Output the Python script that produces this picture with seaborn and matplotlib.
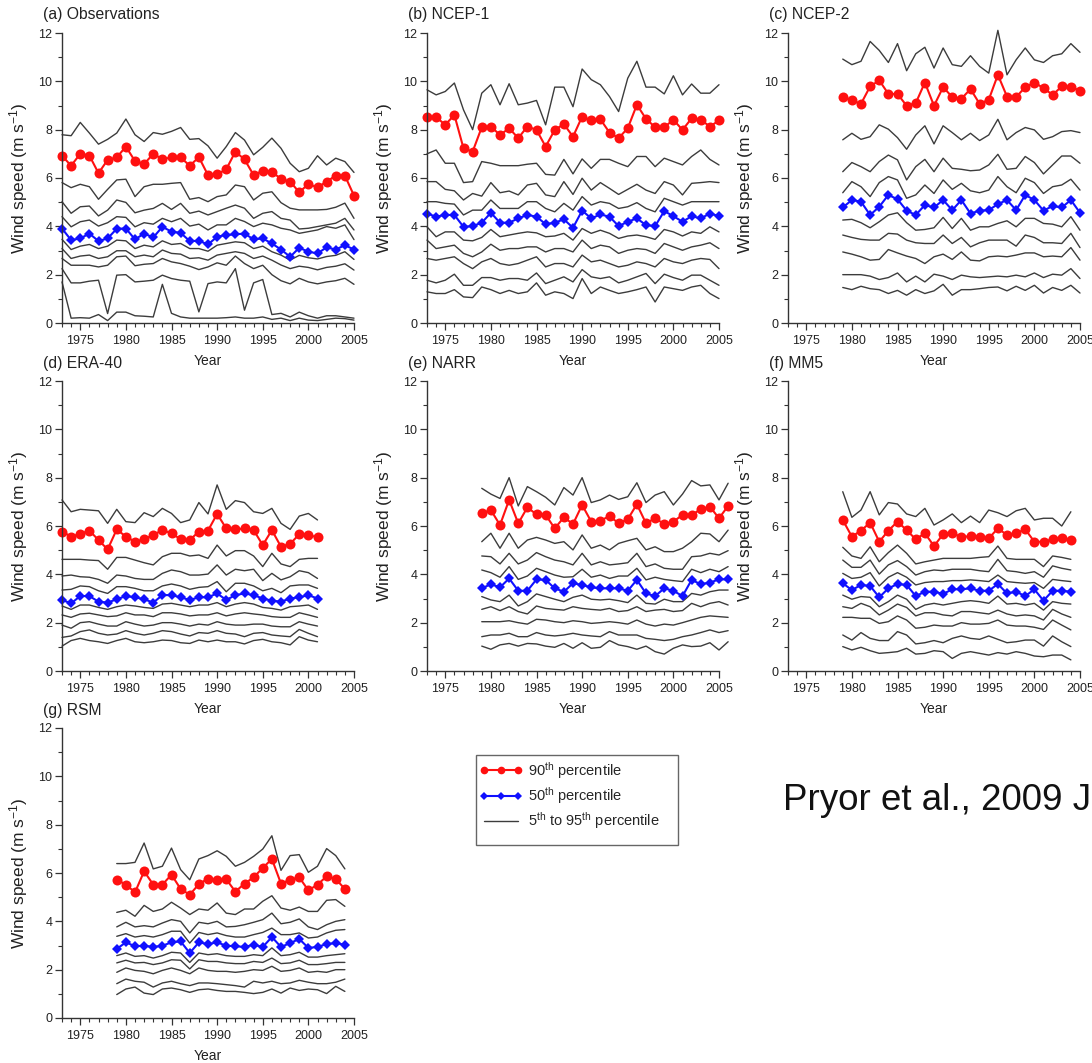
import matplotlib
matplotlib.use("Agg")
import matplotlib.pyplot as plt
from matplotlib.lines import Line2D
from matplotlib.patches import Rectangle
from matplotlib.ticker import MultipleLocator
import seaborn as sns
import pandas as pd

# ---------------- data (m s-1) ----------------
PCTS = [95, 90, 80, 70, 60, 50, 40, 30, 20, 10, 5]

OBS_START = 1973
OBS = {
    95: [7.79,7.75,8.30,7.86,7.40,7.60,7.86,8.44,7.79,7.51,7.88,7.81,7.93,8.09,7.60,7.63,7.33,6.82,7.30,7.88,7.57,6.96,7.27,7.65,7.23,6.61,6.26,6.40,6.92,6.54,6.82,6.68,6.23],
    90: [6.92,6.51,7.00,6.93,6.20,6.75,6.85,7.30,6.70,6.58,7.00,6.78,6.85,6.85,6.51,6.86,6.12,6.15,6.36,7.09,6.77,6.12,6.30,6.26,5.96,5.85,5.41,5.75,5.61,5.85,6.10,6.10,5.27],
    80: [5.81,5.60,5.74,5.64,5.12,5.53,5.92,5.95,5.23,5.64,5.74,5.74,5.78,5.81,5.12,5.19,5.02,5.23,5.30,5.71,5.64,5.09,5.37,5.43,4.98,4.75,4.68,4.68,4.68,4.70,4.79,4.96,4.33],
    70: [5.02,4.54,4.81,4.84,4.43,4.67,5.09,4.99,4.56,4.67,4.74,4.95,4.70,4.95,4.54,4.63,4.47,4.61,4.75,4.88,4.75,4.33,4.54,4.61,4.33,4.26,3.89,3.92,3.99,4.06,4.13,4.33,3.85],
    60: [4.40,3.98,4.19,4.26,4.01,4.15,4.40,4.37,3.98,4.15,4.09,4.33,4.19,4.33,4.01,4.09,3.85,4.06,4.06,4.33,4.20,3.99,4.13,4.06,3.92,3.85,3.71,3.78,3.85,3.99,3.92,4.06,3.45],
    50: [3.91,3.43,3.50,3.70,3.39,3.50,3.90,3.91,3.46,3.70,3.54,3.98,3.78,3.73,3.39,3.40,3.25,3.57,3.64,3.67,3.70,3.46,3.50,3.29,3.04,2.74,3.11,2.95,2.88,3.13,3.04,3.22,3.04],
    40: [3.46,3.04,3.18,3.25,3.08,3.18,3.43,3.40,3.08,3.22,3.15,3.40,3.25,3.29,3.08,3.08,2.97,3.22,3.29,3.36,3.32,3.08,3.18,2.95,2.81,2.60,2.80,2.70,2.65,2.75,2.80,2.95,2.63],
    30: [3.08,2.67,2.77,2.81,2.67,2.74,2.99,2.99,2.74,2.81,2.74,3.02,2.88,2.85,2.67,2.70,2.60,2.81,2.88,2.95,2.88,2.67,2.77,2.60,2.40,2.25,2.35,2.30,2.20,2.30,2.35,2.45,2.19],
    20: [2.67,2.39,2.39,2.39,2.32,2.39,2.74,2.77,2.37,2.43,2.46,2.67,2.53,2.46,2.35,2.21,2.32,2.49,2.39,2.77,2.46,2.25,2.39,2.00,1.75,1.62,1.85,1.70,1.62,1.70,1.75,1.85,1.60],
    10: [2.25,1.66,1.66,1.73,1.77,0.39,1.98,2.00,1.70,1.73,1.77,1.98,1.84,1.77,1.73,0.46,1.63,1.70,1.66,2.25,0.53,1.66,1.80,0.35,0.40,0.25,0.45,0.30,0.20,0.30,0.30,0.25,0.20],
    5:  [1.70,0.20,0.22,0.20,0.35,0.10,0.45,0.45,0.30,0.28,0.25,1.60,0.40,0.25,0.20,0.20,0.20,0.20,0.22,0.25,0.20,0.20,0.25,0.15,0.20,0.10,0.20,0.12,0.10,0.15,0.20,0.18,0.12],
}

NCEP1_START = 1973
NCEP1 = {
    95: [9.65,9.44,9.58,9.93,8.82,8.00,9.51,9.86,9.03,9.90,9.03,9.10,9.21,8.20,9.76,9.76,8.95,10.51,10.07,9.86,9.37,8.75,10.13,10.83,9.76,9.76,9.48,10.23,9.44,9.89,9.51,9.51,9.86],
    90: [8.52,8.52,8.20,8.61,7.23,7.09,8.10,8.13,7.78,8.06,7.65,8.13,7.99,7.30,7.99,8.23,7.71,8.54,8.38,8.43,7.88,7.65,8.06,9.03,8.45,8.10,8.10,8.41,7.99,8.47,8.41,8.13,8.38],
    80: [7.00,7.16,6.61,6.61,5.81,5.85,6.68,6.61,6.51,6.51,6.51,6.57,6.61,6.15,6.12,6.77,6.17,6.79,6.40,6.77,6.77,6.61,6.47,6.89,6.89,6.47,6.82,6.68,6.54,6.89,7.16,6.77,6.54],
    70: [5.85,5.85,5.53,5.47,5.09,5.36,5.25,5.81,5.39,5.46,5.30,5.71,5.78,5.30,5.23,5.85,5.32,5.99,5.50,5.81,5.57,5.32,5.53,5.74,5.50,5.36,5.85,5.71,5.30,5.78,5.81,5.85,5.81],
    60: [5.02,5.02,4.95,4.92,4.47,4.67,4.67,5.09,4.74,4.74,4.74,5.02,5.02,4.74,4.60,4.95,4.67,5.23,4.88,5.02,4.95,4.74,4.81,4.98,4.74,4.60,5.16,5.02,4.88,5.02,5.02,5.02,5.02],
    50: [4.53,4.40,4.47,4.47,3.98,4.01,4.15,4.56,4.15,4.15,4.33,4.47,4.40,4.09,4.15,4.29,3.94,4.65,4.33,4.49,4.40,4.01,4.19,4.33,4.05,4.01,4.63,4.42,4.19,4.42,4.33,4.53,4.42],
    40: [3.98,3.57,3.77,3.77,3.43,3.40,3.54,3.87,3.57,3.64,3.71,3.77,3.73,3.57,3.60,3.71,3.43,3.91,3.71,3.84,3.71,3.50,3.60,3.64,3.57,3.46,3.87,3.77,3.60,3.77,3.71,3.98,3.77],
    30: [3.43,3.08,3.15,3.22,2.88,2.74,2.94,3.26,3.01,3.08,3.08,3.15,3.15,2.94,3.08,3.08,2.94,3.43,3.08,3.22,3.15,2.88,3.01,3.08,3.04,2.88,3.29,3.15,3.01,3.15,3.22,3.32,3.08],
    20: [2.67,2.60,2.67,2.74,2.46,2.25,2.53,2.67,2.46,2.39,2.46,2.60,2.74,2.32,2.46,2.46,2.32,2.81,2.53,2.60,2.46,2.32,2.39,2.53,2.46,2.32,2.67,2.53,2.46,2.60,2.67,2.63,2.25],
    10: [1.77,1.66,1.77,2.02,1.56,1.56,1.88,1.88,1.77,1.84,1.84,1.77,2.07,1.63,1.77,1.91,1.70,2.21,1.91,1.84,1.91,1.66,1.77,1.91,2.05,1.63,2.02,1.88,1.77,1.98,1.98,1.77,1.56],
    5:  [1.29,1.22,1.22,1.38,1.08,1.05,1.49,1.38,1.22,1.35,1.22,1.29,1.66,1.15,1.29,1.22,1.01,1.84,1.22,1.49,1.35,1.22,1.29,1.38,1.49,0.87,1.49,1.42,1.35,1.49,1.56,1.22,1.01],
}

NCEP2_START = 1979
NCEP2 = {
    95: [10.92,10.69,10.83,11.65,11.28,10.78,11.56,10.44,11.14,11.41,10.55,11.38,10.69,10.62,11.06,10.62,10.34,12.11,10.27,10.89,11.38,10.89,10.78,11.06,11.14,11.56,11.20],
    90: [9.37,9.21,9.07,9.79,10.04,9.48,9.48,8.99,9.10,9.95,8.99,9.76,9.35,9.28,9.68,9.07,9.24,10.27,9.37,9.35,9.76,9.95,9.72,9.44,9.79,9.76,9.62],
    80: [7.58,7.85,7.60,7.71,8.20,8.02,7.67,7.19,7.78,8.16,7.41,8.16,7.88,7.58,7.85,7.55,7.78,8.43,7.58,7.88,8.09,7.99,7.60,7.71,7.92,7.96,7.88],
    70: [6.26,6.64,6.47,6.26,6.68,6.95,6.75,5.92,6.47,6.77,6.26,6.82,6.40,6.36,6.30,6.33,6.54,6.98,6.36,6.40,6.89,6.64,6.17,6.54,6.91,6.91,6.61],
    60: [5.39,5.85,5.64,5.23,5.81,6.06,5.92,5.16,5.30,5.71,5.36,5.92,5.53,5.78,5.47,5.39,5.50,6.06,5.64,5.39,5.99,5.81,5.36,5.64,5.71,5.95,5.50],
    50: [4.78,5.09,5.02,4.47,4.81,5.30,5.12,4.65,4.47,4.88,4.78,5.09,4.67,5.09,4.53,4.65,4.67,4.92,5.09,4.67,5.30,5.09,4.65,4.84,4.78,5.09,4.56],
    40: [4.26,4.29,4.15,3.94,4.19,4.47,4.56,4.15,3.84,3.87,3.94,4.37,3.91,4.33,3.84,3.98,3.98,4.12,4.23,3.98,4.33,4.33,4.12,4.09,3.98,4.40,3.84],
    30: [3.64,3.54,3.46,3.43,3.43,3.71,3.68,3.43,3.32,3.29,3.29,3.64,3.29,3.54,3.15,3.32,3.43,3.43,3.43,3.18,3.64,3.54,3.32,3.32,3.29,3.71,3.12],
    20: [2.94,2.85,2.74,2.60,2.63,3.04,2.90,2.77,2.67,2.46,2.74,2.85,2.63,2.94,2.60,2.57,2.74,2.77,2.74,2.81,2.90,2.90,2.74,2.77,2.74,3.12,2.60],
    10: [2.00,2.00,2.00,1.94,1.80,1.88,2.07,1.70,1.94,1.70,2.02,1.94,1.80,1.98,1.91,1.88,1.91,1.94,1.91,1.98,1.91,2.07,1.88,2.02,1.98,2.25,1.84],
    5:  [1.47,1.38,1.52,1.42,1.38,1.22,1.35,1.15,1.38,1.22,1.33,1.60,1.15,1.38,1.38,1.42,1.47,1.49,1.33,1.52,1.35,1.56,1.24,1.47,1.35,1.56,1.24],
}

ERA40_START = 1973
ERA40 = {
    95: [7.08,6.59,6.69,6.66,6.63,6.11,6.69,6.18,6.14,6.55,6.39,6.73,6.52,6.14,6.25,6.97,6.50,7.70,6.69,7.05,6.97,6.59,6.52,6.73,6.11,5.86,6.41,6.52,6.25],
    90: [5.77,5.56,5.67,5.81,5.42,5.03,5.86,5.56,5.35,5.45,5.63,5.83,5.70,5.45,5.42,5.77,5.81,6.50,5.90,5.86,5.90,5.83,5.21,5.83,5.14,5.26,5.66,5.63,5.53],
    80: [4.62,4.62,4.62,4.59,4.57,4.21,4.70,4.70,4.59,4.48,4.39,4.73,4.87,4.87,4.76,4.80,4.66,5.21,4.76,4.98,4.98,4.76,4.32,4.87,4.43,4.32,4.62,4.66,4.66],
    70: [3.93,3.97,3.90,3.88,3.79,3.63,3.97,3.93,3.83,3.79,3.79,4.04,4.18,4.11,3.97,3.97,4.01,4.39,3.97,4.21,4.15,4.21,3.74,4.04,3.77,3.90,4.15,4.07,3.83],
    60: [3.35,3.38,3.52,3.49,3.32,3.21,3.49,3.49,3.42,3.32,3.32,3.52,3.60,3.52,3.38,3.46,3.49,3.70,3.28,3.63,3.63,3.52,3.32,3.42,3.24,3.52,3.56,3.56,3.42],
    50: [2.94,2.80,3.10,3.10,2.87,2.83,2.97,3.10,3.05,2.97,2.83,3.14,3.14,3.05,2.94,3.05,3.05,3.21,2.94,3.14,3.21,3.14,3.00,2.91,2.87,3.00,3.05,3.14,3.00],
    40: [2.69,2.55,2.73,2.73,2.63,2.55,2.66,2.73,2.69,2.63,2.59,2.77,2.80,2.73,2.66,2.73,2.73,2.83,2.66,2.77,2.83,2.77,2.63,2.59,2.52,2.66,2.69,2.73,2.55],
    30: [2.32,2.22,2.36,2.39,2.32,2.25,2.28,2.41,2.32,2.32,2.25,2.41,2.41,2.36,2.28,2.32,2.32,2.41,2.28,2.36,2.41,2.36,2.32,2.25,2.22,2.22,2.41,2.32,2.22],
    20: [1.90,1.77,2.00,2.04,1.94,1.86,1.86,2.04,1.94,1.86,1.90,2.00,2.00,1.94,1.86,1.94,1.90,2.04,1.94,1.90,1.90,1.94,1.94,1.86,1.83,1.83,2.04,1.94,1.86],
    10: [1.39,1.45,1.63,1.70,1.56,1.49,1.53,1.67,1.56,1.49,1.56,1.67,1.63,1.53,1.45,1.59,1.56,1.67,1.56,1.53,1.42,1.56,1.59,1.49,1.45,1.42,1.72,1.56,1.42],
    5:  [1.03,1.26,1.35,1.26,1.21,1.14,1.26,1.35,1.21,1.17,1.21,1.28,1.26,1.17,1.14,1.28,1.21,1.28,1.21,1.21,1.12,1.26,1.31,1.21,1.17,1.08,1.42,1.28,1.21],
}

NARR_START = 1979
NARR = {
    95: [7.56,7.32,7.14,8.00,6.83,7.63,7.42,7.19,6.87,7.59,7.28,8.00,6.97,7.08,7.28,7.10,7.21,7.79,6.97,7.28,7.42,6.87,7.32,7.88,7.66,7.70,7.08,7.77],
    90: [6.52,6.66,6.04,7.08,6.11,6.77,6.48,6.46,5.90,6.36,6.08,6.87,6.18,6.22,6.41,6.11,6.28,6.90,6.11,6.32,6.08,6.18,6.46,6.46,6.69,6.80,6.32,6.83],
    80: [5.35,5.70,5.08,5.70,5.08,5.42,5.53,5.42,5.28,5.35,5.01,5.63,5.08,5.21,5.01,5.28,5.39,5.49,5.01,5.14,4.94,4.94,5.08,5.35,5.70,5.67,5.35,5.83],
    70: [4.76,4.73,4.43,4.87,4.43,4.59,4.90,4.73,4.59,4.52,4.39,4.87,4.39,4.52,4.39,4.43,4.48,4.87,4.32,4.43,4.25,4.21,4.21,4.73,4.76,4.87,4.80,4.98],
    60: [4.18,4.07,3.88,4.32,3.79,3.93,4.25,4.11,3.97,3.88,3.90,4.21,3.88,3.97,3.83,3.93,3.93,4.25,3.77,3.88,3.79,3.74,3.70,4.21,4.07,4.21,4.11,4.32],
    50: [3.42,3.59,3.46,3.83,3.32,3.32,3.79,3.77,3.42,3.28,3.63,3.56,3.46,3.42,3.42,3.42,3.32,3.77,3.21,3.10,3.42,3.32,3.10,3.77,3.59,3.66,3.79,3.79],
    40: [3.08,2.94,2.87,3.14,2.69,2.87,3.19,3.08,2.97,2.87,3.05,3.14,2.97,2.94,2.97,2.91,2.83,3.14,2.80,2.77,2.97,2.87,2.87,3.21,3.14,3.28,3.35,3.35],
    30: [2.55,2.66,2.50,2.66,2.46,2.36,2.69,2.59,2.55,2.52,2.66,2.59,2.55,2.52,2.59,2.46,2.50,2.66,2.46,2.52,2.55,2.46,2.50,2.80,2.66,2.80,2.87,2.73],
    20: [2.04,2.04,2.04,2.08,2.00,1.94,2.14,2.11,2.04,2.00,2.08,2.04,1.97,2.00,2.04,2.00,1.94,2.11,1.94,1.86,1.94,1.90,2.00,2.11,2.22,2.28,2.25,2.22],
    10: [1.42,1.49,1.49,1.56,1.42,1.42,1.59,1.49,1.45,1.49,1.56,1.49,1.45,1.42,1.63,1.49,1.49,1.49,1.35,1.31,1.26,1.31,1.42,1.49,1.59,1.70,1.59,1.67],
    5:  [1.03,0.90,1.08,1.14,1.03,1.14,1.12,1.03,0.98,1.14,0.94,1.17,0.94,0.98,1.26,1.08,1.01,0.90,1.03,0.80,0.70,0.94,1.08,1.01,1.03,1.17,0.87,1.21],
}

MM5_START = 1979
MM5 = {
    95: [7.42,6.36,6.66,7.42,6.46,6.97,6.91,6.50,6.39,6.73,6.04,6.25,6.50,6.14,6.41,6.14,6.66,6.55,6.39,6.63,6.73,6.25,6.32,6.32,6.00,6.59],
    90: [6.25,5.56,5.81,6.14,5.35,5.81,6.18,5.83,5.45,5.70,5.17,5.66,5.72,5.53,5.59,5.56,5.49,5.90,5.63,5.70,5.86,5.35,5.35,5.45,5.49,5.42],
    80: [5.12,4.76,4.66,5.14,4.52,4.90,5.21,4.87,4.43,4.52,4.59,4.66,4.66,4.66,4.66,4.70,4.73,5.17,4.66,4.62,4.62,4.62,4.32,4.76,4.70,4.62],
    70: [4.59,4.29,4.29,4.59,4.01,4.39,4.57,4.32,3.97,4.11,4.18,4.15,4.21,4.21,4.21,4.15,4.11,4.62,4.15,4.11,4.04,4.11,3.88,4.35,4.25,4.18],
    60: [4.04,3.83,3.88,4.07,3.52,3.88,4.07,3.88,3.56,3.66,3.70,3.70,3.74,3.74,3.77,3.74,3.70,3.97,3.70,3.66,3.63,3.66,3.42,3.79,3.74,3.70],
    50: [3.63,3.35,3.56,3.52,3.05,3.42,3.60,3.56,3.10,3.28,3.28,3.19,3.38,3.38,3.42,3.32,3.32,3.60,3.21,3.28,3.10,3.38,2.91,3.32,3.32,3.28],
    40: [3.14,2.97,3.08,3.05,2.66,2.87,3.14,2.97,2.55,2.73,2.80,2.73,2.80,2.87,2.91,2.87,2.80,3.10,2.77,2.80,2.73,2.80,2.52,2.87,2.80,2.77],
    30: [2.66,2.59,2.80,2.66,2.32,2.52,2.77,2.63,2.28,2.41,2.41,2.32,2.28,2.46,2.46,2.41,2.36,2.52,2.36,2.28,2.32,2.28,2.11,2.55,2.36,2.22],
    20: [2.22,2.22,2.18,2.18,1.97,2.04,2.28,2.11,1.77,1.81,1.90,1.86,1.86,2.00,1.94,1.94,1.97,2.11,1.90,1.86,1.86,1.81,1.72,2.11,1.90,1.70],
    10: [1.49,1.28,1.59,1.35,1.26,1.26,1.63,1.49,1.12,1.17,1.26,1.17,1.35,1.45,1.35,1.31,1.45,1.31,1.17,1.21,1.28,1.28,1.03,1.45,1.21,1.01],
    5:  [1.01,0.87,0.98,0.84,0.73,0.76,0.80,0.94,0.70,0.73,0.84,0.80,0.52,0.73,0.80,0.73,0.66,0.76,0.70,0.80,0.73,0.62,0.59,0.66,0.66,0.46],
}

RSM_START = 1979
RSM = {
    95: [6.39,6.39,6.44,7.24,6.17,6.28,7.03,6.14,5.72,6.58,6.72,6.92,6.69,6.28,6.44,6.69,6.99,7.54,6.11,6.72,6.76,6.03,6.28,7.01,6.72,6.17],
    90: [5.72,5.52,5.20,6.07,5.52,5.52,5.93,5.34,5.10,5.54,5.77,5.72,5.74,5.23,5.56,5.82,6.21,6.58,5.56,5.72,5.82,5.28,5.52,5.86,5.75,5.34],
    80: [4.37,4.46,4.21,4.66,4.41,4.51,4.79,4.55,4.28,4.51,4.46,4.76,4.34,4.28,4.51,4.51,4.83,5.06,4.55,4.46,4.59,4.41,4.41,4.87,4.90,4.62],
    70: [3.77,3.96,3.77,3.82,3.77,3.93,4.07,4.00,3.52,3.96,3.90,4.00,3.77,3.79,3.86,3.96,4.07,4.34,3.90,3.96,4.10,3.77,3.66,3.86,4.00,4.07],
    60: [3.38,3.49,3.35,3.41,3.35,3.45,3.59,3.59,3.10,3.54,3.45,3.52,3.41,3.35,3.35,3.45,3.54,3.72,3.45,3.45,3.52,3.31,3.35,3.52,3.63,3.66],
    50: [2.86,3.13,2.97,2.99,2.94,2.99,3.13,3.17,2.69,3.13,3.06,3.13,2.99,2.97,2.94,3.03,2.94,3.35,2.94,3.10,3.27,2.90,2.94,3.06,3.10,3.03],
    40: [2.58,2.69,2.55,2.58,2.48,2.58,2.72,2.69,2.30,2.69,2.62,2.66,2.58,2.55,2.55,2.62,2.58,2.90,2.58,2.62,2.72,2.52,2.52,2.58,2.62,2.66],
    30: [2.28,2.39,2.28,2.30,2.21,2.28,2.41,2.39,2.03,2.41,2.34,2.34,2.28,2.25,2.25,2.34,2.30,2.48,2.25,2.28,2.39,2.21,2.21,2.25,2.30,2.30],
    20: [1.89,2.07,1.97,1.93,1.83,1.97,2.07,1.97,1.83,2.07,1.97,1.93,1.93,1.89,1.93,2.00,1.97,2.14,1.93,1.97,2.07,1.89,1.93,1.89,2.00,2.00],
    10: [1.42,1.61,1.52,1.48,1.28,1.45,1.52,1.42,1.34,1.45,1.45,1.42,1.38,1.34,1.28,1.52,1.45,1.52,1.42,1.45,1.56,1.48,1.42,1.42,1.48,1.61],
    5:  [0.97,1.20,1.28,1.03,0.97,1.20,1.24,1.17,1.06,1.17,1.20,1.14,1.10,1.10,1.06,1.01,1.06,1.20,1.03,1.24,1.14,1.20,1.17,1.01,1.31,1.10],
}

PANELS = [
    ("(a) Observations", OBS_START, OBS),
    ("(b) NCEP-1", NCEP1_START, NCEP1),
    ("(c) NCEP-2", NCEP2_START, NCEP2),
    ("(d) ERA-40", ERA40_START, ERA40),
    ("(e) NARR", NARR_START, NARR),
    ("(f) MM5", MM5_START, MM5),
    ("(g) RSM", RSM_START, RSM),
]
LEGEND_LABELS = ["90$^{th}$ percentile", "50$^{th}$ percentile", "5$^{th}$ to 95$^{th}$ percentile"]
CREDIT = "Pryor et al., 2009 J"

# ---------------- style ----------------
sns.set_theme(style="ticks")
plt.rcParams["font.family"] = ["Liberation Sans", "DejaVu Sans"]
plt.rcParams["mathtext.default"] = "regular"
plt.rcParams["axes.edgecolor"] = "#333333"
plt.rcParams["axes.linewidth"] = 1.0

RED = "#ff1010"
BLUE = "#1010ff"
GREY = "#3c3c3c"

W, H = 1092, 1063
fig = plt.figure(figsize=(W / 100, H / 100), dpi=100)

COL_LEFT = [62, 427, 788]
ROW_TOP = [33, 381, 728]
AX_W, AX_H = 292, 290


def long_frame(start, data):
    rows = []
    for pct in PCTS:
        vals = data[pct]
        for i, v in enumerate(vals):
            rows.append((pct, start + i, v))
    return pd.DataFrame(rows, columns=["pct", "year", "speed"])


for idx, (title, start, data) in enumerate(PANELS):
    r, c = divmod(idx, 3)
    l = COL_LEFT[c] / W
    b = 1 - (ROW_TOP[r] + AX_H) / H
    ax = fig.add_axes([l, b, AX_W / W, AX_H / H])
    df = long_frame(start, data)
    black = df[~df["pct"].isin([90, 50])]
    sns.lineplot(data=black, x="year", y="speed", units="pct", estimator=None,
                 color=GREY, lw=1.0, ax=ax, legend=False, clip_on=False)
    sns.lineplot(data=df[df["pct"] == 90], x="year", y="speed", estimator=None,
                 color=RED, lw=1.5, marker="o", markersize=7.2, markeredgewidth=0,
                 ax=ax, legend=False, clip_on=False)
    sns.lineplot(data=df[df["pct"] == 50], x="year", y="speed", estimator=None,
                 color=BLUE, lw=1.5, marker="D", markersize=5.6, markeredgewidth=0,
                 ax=ax, legend=False, clip_on=False)

    ax.set_xlim(1973, 2005)
    ax.set_ylim(0, 12)
    ax.xaxis.set_major_locator(MultipleLocator(5))
    ax.xaxis.set_minor_locator(MultipleLocator(1))
    ax.set_xticks([1975, 1980, 1985, 1990, 1995, 2000, 2005])
    ax.yaxis.set_major_locator(MultipleLocator(2))
    ax.yaxis.set_minor_locator(MultipleLocator(1))
    ax.tick_params(axis="both", which="major", direction="out", length=5, width=0.9,
                   color="#333333", labelsize=9, labelcolor="#222222")
    ax.tick_params(axis="both", which="minor", direction="out", length=3, width=0.8,
                   color="#333333")
    ax.tick_params(axis="x", which="major", pad=3.5)
    ax.tick_params(axis="y", which="major", pad=2)
    sns.despine(ax=ax)

    ax.set_xlabel("Year", fontsize=10, color="#222222")
    ax.xaxis.label.set_va("center")
    ax.xaxis.set_label_coords(0.5, -38 / AX_H)
    ax.set_ylabel("Wind speed (m s$^{-1}$)", fontsize=12.5, color="#222222")
    ax.yaxis.label.set_va("center")
    ax.yaxis.set_label_coords(-43 / AX_W, 0.5)
    ax.text(-19 / AX_W, 1 + 18 / AX_H, title, transform=ax.transAxes,
            ha="left", va="center", fontsize=11.3, color="#222222")

# legend frame and entries
fig.patches.append(Rectangle((476 / W, 1 - 845 / H), 202 / W, 90 / H,
                             transform=fig.transFigure, fill=False,
                             edgecolor="#666666", lw=1.0))
handles = [
    Line2D([], [], color=RED, lw=1.5, marker="o", markersize=5.5, markeredgewidth=0),
    Line2D([], [], color=BLUE, lw=1.5, marker="D", markersize=4, markeredgewidth=0),
    Line2D([], [], color=GREY, lw=1.0),
]
fig.legend(handles, LEGEND_LABELS, loc="upper left",
           bbox_to_anchor=(480 / W, 1 - 760 / H), bbox_transform=fig.transFigure,
           frameon=False, fontsize=10.5, numpoints=3, handlelength=2.9,
           handletextpad=0.4, labelspacing=0.3, borderpad=0.0, borderaxespad=0.0)

fig.text(783 / W, 1 - 800 / H, CREDIT, ha="left", va="center", fontsize=26.5,
         color="#111111")

fig.savefig("out.png", dpi=100)
